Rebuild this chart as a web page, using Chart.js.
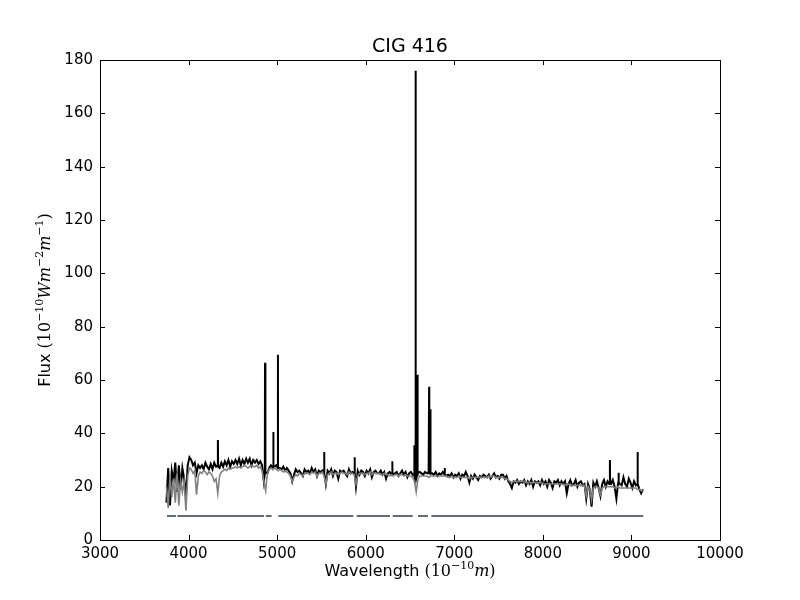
<!DOCTYPE html>
<html>
<head>
<meta charset="utf-8">
<script src="https://cdn.jsdelivr.net/npm/chart.js@4/dist/chart.umd.min.js"></script>
<style>
  body { margin: 0; background: #fff; }
  canvas { display: block; }
</style>
</head>
<body>
<canvas id="spec" width="800" height="600"></canvas>
<script>
// spectrum sampled every 20 A from 3750 A
var waveStart = 3750;
var waveStep = 20;

// observed continuum flux (black)
var flux = [
  14, 27, 13, 26, 22, 29, 18, 28, 19, 27,
  23, 16, 28, 31, 30, 28, 29, 25, 28, 27,
  28, 26.5, 29, 27.5, 26.5, 28.5, 26.5, 29, 27.5, 28,
  27, 29, 27.5, 29.5, 28, 30, 27.5, 29.5, 28.5, 30,
  28.5, 30.5, 28, 30, 28.5, 30.5, 29, 30.5, 28, 30,
  29, 30, 28.5, 29.5, 28, 22, 25.5, 25, 27, 28,
  27, 27.5, 28, 27, 27, 26.5, 27.5, 26, 27, 26,
  25, 22, 24.5, 26.5, 25.5, 26, 25, 24, 26.5, 25.5,
  26, 25, 27, 25.5, 26.5, 24, 26, 25.5, 26, 24.5,
  21, 26, 25, 26.5, 24, 26, 25.5, 23, 26, 25.5,
  26, 25, 24, 26.5, 25, 25.5, 25, 20, 26, 24.5,
  26, 25.5, 24, 26, 25, 26.5, 23.5, 25.5, 26, 25,
  25, 26, 24.5, 25.5, 23, 25, 25.5, 24.5, 24.5, 25,
  25.5, 24, 25, 26, 24.5, 25.5, 23.5, 25, 25.5, 24.5,
  24, 23, 25, 25.5, 25, 24.5, 25.5, 25, 25, 24.5,
  25, 24.5, 25.5, 24, 25, 24.5, 25.5, 24.5, 24, 24.5,
  24, 25, 23.5, 24.5, 24, 25, 23, 24.5, 24, 25.5,
  24, 21.5, 24, 23, 24.5, 23.5, 22.5, 24, 23.5, 24.5,
  24, 23.5, 24.5, 23, 24, 25, 23.5, 24, 23, 24.5,
  24.5, 23, 24, 22, 21, 19.5, 22, 21.5, 22.5, 21,
  22, 21.5, 22.5, 20.5, 22, 21, 22.5, 20, 22, 21.5,
  22, 20.5, 22.5, 21, 22, 20, 22.5, 21.5, 19.5, 22,
  21.5, 22.5, 20.5, 22, 21, 22, 17.5, 21, 22.5, 20.5,
  21, 22.5, 20, 21.5, 22, 20.5, 21, 15.5, 21, 19,
  12.5, 21.5, 20, 22, 19.5, 16.5, 21, 22.5, 20, 22,
  21, 21, 22.5, 20, 15.5, 21.5, 21, 20.5, 23.5, 21,
  20, 23, 21.5, 19.5, 22, 20.5, 21, 19, 17.5, 19
];

// emission lines on top of the observed continuum
var lineWave = [4332, 4863, 4957, 5009, 5532, 5876, 6300, 6548, 6563, 6583, 6716, 6731, 6893, 8758, 8856, 9070];
var linePeak = [37.5, 66.5, 40.5, 69.5, 33, 31, 29.5, 35.5, 176, 62, 57.5, 49, 27, 30, 25.2, 33];
var lineBase = [27.5, 25, 27, 27, 25, 25, 25, 24.5, 24.5, 24.5, 25, 25, 24.5, 21, 21.5, 21];

// fitted model (gray)
var model = [
  20, 12, 24, 16, 23, 14, 25, 13, 22, 18,
  22, 11, 24, 27, 26.5, 25, 26, 17, 24, 25.5,
  25, 26, 25.5, 24.5, 25.5, 25, 24, 22, 23, 17.5,
  24, 25.5, 26, 26.5, 26, 27, 26.5, 27, 27, 27.5,
  27, 27.5, 27, 27.5, 28, 27.5, 27, 27.5, 28, 27.5,
  27.5, 28, 27, 27.5, 26, 22, 18.5, 25, 26.5, 27,
  26.5, 27, 26.5, 26, 26.5, 26, 25.5, 26, 25.5, 25,
  24, 22, 23.5, 24.5, 24, 25, 24.5, 24, 25, 25,
  25, 24.5, 25.5, 25, 25.5, 24, 25, 25, 25.5, 24,
  21, 24.5, 25, 25.5, 24.5, 25, 25, 24.5, 25, 25.5,
  25, 25, 24.5, 25.5, 25, 25, 24.5, 21, 24, 25,
  25, 25, 24.5, 25, 25, 25.5, 24.5, 25, 25, 25,
  25, 24.5, 24.5, 25, 24.5, 24.5, 24, 24.5, 24, 24.5,
  24.5, 24, 24.5, 24.5, 24, 24.5, 24, 24, 24, 23.5,
  22, 18, 23, 24, 24, 24, 24, 24, 23.5, 24,
  24, 24, 24, 24, 24, 24, 24, 24, 24, 23.5,
  23.5, 24, 23.5, 23.5, 23.5, 24, 23.5, 23.5, 23.5, 23.5,
  23.5, 23, 23.5, 23.5, 23.5, 23.5, 23.5, 23.5, 23.5, 23.5,
  23.5, 23.5, 24, 23.5, 24, 24, 23.5, 23.5, 23.5, 23.5,
  23.5, 23, 23, 22.5, 22, 21.5, 22, 22, 22, 22,
  22, 22, 22, 21.5, 21.5, 21.5, 21.5, 21.5, 21.5, 21.5,
  21.5, 21.5, 21.5, 21, 21, 21, 21, 21, 21, 21,
  21, 21, 21, 21, 21, 20.5, 21, 21, 20.5, 20.5,
  20.5, 20.5, 20.5, 20.5, 20.5, 20.5, 20.5, 16.5, 20, 19,
  15, 19.5, 20, 20, 19.5, 17, 19.5, 20, 20, 20,
  20, 20, 20, 19.5, 19.5, 20, 19.5, 19.5, 19.5, 19.5,
  19.5, 19.5, 19.5, 19.5, 19.5, 19.5, 19, 19, 18.5, 18.5
];

// wavelength ranges used in the fit, drawn at a fixed level
var maskSegments = [
  [3756, 3858], [3873, 4852], [4871, 4938], [5013, 5860],
  [5898, 6274], [6305, 6531], [6590, 6703], [6741, 9134]
];
var maskLevel = 9;

var xTicks = [3000, 4000, 5000, 6000, 7000, 8000, 9000, 10000];
var yTicks = [0, 20, 40, 60, 80, 100, 120, 140, 160, 180];

var fluxPts = flux.map(function (v, i) { return { x: waveStart + i * waveStep, y: v }; });
lineWave.forEach(function (w, i) {
  fluxPts.push({ x: w - 2, y: lineBase[i] });
  fluxPts.push({ x: w, y: linePeak[i] });
  fluxPts.push({ x: w + 2, y: lineBase[i] });
});
fluxPts.sort(function (a, b) { return a.x - b.x; });

var modelPts = model.map(function (v, i) { return { x: waveStart + i * waveStep, y: v }; });
var maskPts = [];
maskSegments.forEach(function (s) {
  maskPts.push({ x: s[0], y: maskLevel });
  maskPts.push({ x: s[1], y: maskLevel });
  maskPts.push({ x: s[1] + 1, y: null });
});

var sans = "DejaVu Sans";
var serif = "DejaVu Serif";

function richText(ctx, parts, x, y) {
  // draws text pieces centred on x, with baseline y
  var total = 0;
  parts.forEach(function (p) {
    ctx.font = p.f;
    total += ctx.measureText(p.t).width;
  });
  var cx = x - total / 2;
  parts.forEach(function (p) {
    ctx.font = p.f;
    ctx.fillText(p.t, cx, y + (p.dy || 0));
    cx += ctx.measureText(p.t).width;
  });
}

var frame = {
  id: "frame",
  afterDraw: function (chart) {
    var ctx = chart.ctx;
    var a = chart.chartArea;
    var xs = chart.scales.x, ys = chart.scales.y;
    ctx.save();
    ctx.strokeStyle = "#000";
    ctx.lineWidth = 1;
    ctx.beginPath();
    xTicks.forEach(function (v) {
      var px = Math.round(xs.getPixelForValue(v)) + 0.5;
      ctx.moveTo(px, a.bottom); ctx.lineTo(px, a.bottom - 5);
      ctx.moveTo(px, a.top); ctx.lineTo(px, a.top + 5);
    });
    yTicks.forEach(function (v) {
      var py = Math.round(ys.getPixelForValue(v)) + 0.5;
      ctx.moveTo(a.left, py); ctx.lineTo(a.left + 5, py);
      ctx.moveTo(a.right, py); ctx.lineTo(a.right - 5, py);
    });
    ctx.stroke();
    ctx.strokeRect(Math.round(a.left) + 0.5, Math.round(a.top) + 0.5,
      Math.round(a.right - a.left), Math.round(a.bottom - a.top));

    ctx.fillStyle = "#000";
    ctx.textAlign = "left";
    ctx.textBaseline = "alphabetic";
    // title
    richText(ctx, [{ t: "CIG 416", f: "19px " + sans }], (a.left + a.right) / 2, 52);
    // x label
    richText(ctx, [
      { t: "Wavelength ", f: "16px " + sans },
      { t: "(10", f: "16px " + serif },
      { t: "\u221210", f: "11px " + serif, dy: -7 },
      { t: "m", f: "italic 16px " + serif },
      { t: ")", f: "16px " + serif }
    ], (a.left + a.right) / 2, 576);
    // y label
    ctx.translate(50, (a.top + a.bottom) / 2);
    ctx.rotate(-Math.PI / 2);
    richText(ctx, [
      { t: "Flux ", f: "16px " + sans },
      { t: "(10", f: "16px " + serif },
      { t: "\u221210", f: "11px " + serif, dy: -7 },
      { t: "W", f: "italic 16px " + serif },
      { t: "m", f: "italic 16px " + serif },
      { t: "\u22122", f: "11px " + serif, dy: -7 },
      { t: "m", f: "italic 16px " + serif },
      { t: "\u22121", f: "11px " + serif, dy: -7 },
      { t: ")", f: "16px " + serif }
    ], 0, 0);
    ctx.restore();
  }
};

var ctx = document.getElementById("spec").getContext("2d");
var myChart = new Chart(ctx, {
  type: "line",
  data: {
    datasets: [
      {
        label: "model",
        data: modelPts,
        borderColor: "#808080",
        borderWidth: 1.6,
        pointRadius: 0,
        order: 0
      },
      {
        label: "observed",
        data: fluxPts,
        borderColor: "#000000",
        borderWidth: 2,
        pointRadius: 0,
        order: 1
      },
      {
        label: "mask",
        data: maskPts,
        borderColor: "#5f7075",
        borderWidth: 2,
        pointRadius: 0,
        spanGaps: false,
        order: 2
      }
    ]
  },
  options: {
    responsive: false,
    animation: false,
    devicePixelRatio: 1,
    layout: { padding: { left: 0, top: 60, right: 80, bottom: 0 } },
    plugins: {
      legend: { display: false },
      title: { display: false },
      tooltip: { enabled: false }
    },
    scales: {
      x: {
        type: "linear",
        min: 3000,
        max: 10000,
        afterBuildTicks: function (s) { s.ticks = xTicks.map(function (v) { return { value: v }; }); },
        afterFit: function (s) { s.height = 60; },
        grid: { display: false, drawTicks: false },
        border: { display: false },
        ticks: {
          color: "#000", padding: 5, maxRotation: 0,
          font: { family: sans, size: 15 },
          callback: function (v) { return String(v); }
        }
      },
      y: {
        min: 0,
        max: 180,
        afterBuildTicks: function (s) { s.ticks = yTicks.map(function (v) { return { value: v }; }); },
        afterFit: function (s) { s.width = 100; },
        grid: { display: false, drawTicks: false },
        border: { display: false },
        ticks: {
          color: "#000", padding: 7,
          font: { family: sans, size: 15 },
          callback: function (v) { return String(v); }
        }
      }
    }
  },
  plugins: [frame]
});
</script>
</body>
</html>
